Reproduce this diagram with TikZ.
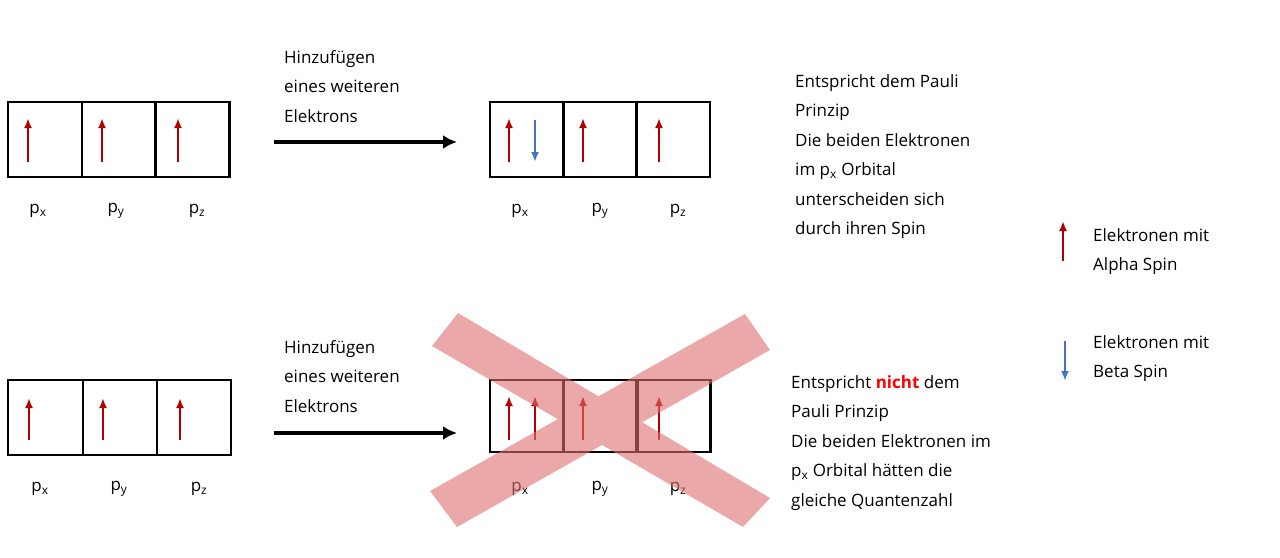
\documentclass[tikz,border=0pt]{standalone}
\usepackage{fontspec}
\setmainfont{Open Sans}
\usetikzlibrary{arrows.meta}
\begin{document}
\begin{tikzpicture}[x=1pt,y=-1pt,
  box/.style={draw=black,line width=2.2pt,minimum width=74pt,minimum height=75pt,inner sep=0pt},
  up/.style={-{Latex[length=10pt,width=8pt]},draw=red!70!black,line width=2.2pt},
  dn/.style={-{Latex[length=10pt,width=8pt]},draw={rgb,255:red,68;green,114;blue,196},line width=2pt},
  big/.style={-{Latex[length=14pt,width=14pt]},line width=3.5pt},
  txt/.style={anchor=north west,align=left,font=\fontsize{17}{29.5}\selectfont,inner sep=0pt},
  lab/.style={font=\fontsize{17}{24}\selectfont},
  band/.style={fill={rgb,255:red,222;green,110;blue,110}}]
\useasboundingbox (0,0) rectangle (1280,557);
% top left
\node[box] (a1) at (45,139.5) {};
\node[box] (a2) at (119,139.5) {};
\node[box] (a3) at (192.5,139.5) {};
\foreach \n/\x in {a1/28,a2/102,a3/178}{\coordinate (\n s) at (\x,162); \coordinate (\n e) at (\x,118); \draw[up] (\n s) -- (\n e);}
\node[lab] (la1) at (38,211) {p\textsubscript{x}};
\node[lab] (la2) at (116,211) {p\textsubscript{y}};
\node[lab] (la3) at (197,211) {p\textsubscript{z}};
\coordinate (t1) at (274,142); \coordinate (t2) at (457,142);
\draw[big] (t1) -- (t2);
\node[txt] (h1) at (284,50) {Hinzufügen\\eines weiteren\\Elektrons};
% top right
\node[box] (b1) at (527,139.5) {};
\node[box] (b2) at (600,139.5) {};
\node[box] (b3) at (673,139.5) {};
\foreach \n/\x in {b1/509,b2/583,b3/659}{\coordinate (\n s) at (\x,162); \coordinate (\n e) at (\x,118); \draw[up] (\n s) -- (\n e);}
\coordinate (bd1) at (535,120); \coordinate (bd2) at (535,162); \draw[dn] (bd1) -- (bd2);
\node[lab] (lb1) at (520,211) {p\textsubscript{x}};
\node[lab] (lb2) at (600,211) {p\textsubscript{y}};
\node[lab] (lb3) at (678,211) {p\textsubscript{z}};
\node[txt] (r1) at (795,74) {Entspricht dem Pauli\\Prinzip\\Die beiden Elektronen\\im p\textsubscript{x} Orbital\\unterscheiden sich\\durch ihren Spin};
% legend
\coordinate (l1s) at (1063,261); \coordinate (l1e) at (1063,221); \draw[up] (l1s) -- (l1e);
\node[txt] (lt1) at (1093,228) {Elektronen mit\\Alpha Spin};
\coordinate (l2s) at (1065,341); \coordinate (l2e) at (1065,381); \draw[dn] (l2s) -- (l2e);
\node[txt] (lt2) at (1093,335) {Elektronen mit\\Beta Spin};
% bottom left
\node[box,minimum width=75pt] (c1) at (45.5,417.5) {};
\node[box] (c2) at (120,417.5) {};
\node[box] (c3) at (194,417.5) {};
\foreach \n/\x in {c1/29,c2/103,c3/180}{\coordinate (\n s) at (\x,440); \coordinate (\n e) at (\x,398); \draw[up] (\n s) -- (\n e);}
\node[lab] (lc1) at (40,489) {p\textsubscript{x}};
\node[lab] (lc2) at (119,489) {p\textsubscript{y}};
\node[lab] (lc3) at (199,489) {p\textsubscript{z}};
\coordinate (u1) at (274,433); \coordinate (u2) at (457,433);
\draw[big] (u1) -- (u2);
\node[txt] (h2) at (284,340) {Hinzufügen\\eines weiteren\\Elektrons};
% bottom right
\node[box,minimum height=72pt] (d1) at (527,416) {};
\node[box,minimum height=72pt] (d2) at (600.5,416) {};
\node[box,minimum height=72pt] (d3) at (673.5,416) {};
\foreach \n/\x in {d1/509,d2/583,d3/659}{\coordinate (\n s) at (\x,440); \coordinate (\n e) at (\x,396); \draw[up] (\n s) -- (\n e);}
\coordinate (dd1s) at (535,440); \coordinate (dd1e) at (535,396); \draw[up] (dd1s) -- (dd1e);
\node[lab] (ld1) at (520,489) {p\textsubscript{x}};
\node[lab] (ld2) at (600,489) {p\textsubscript{y}};
\node[lab] (ld3) at (678,489) {p\textsubscript{z}};
% cross
\begin{scope}[transparency group,opacity=0.6]
\fill[band] (432,346) -- (458,313) -- (770,498) -- (743,527) -- cycle;
\fill[band] (745,314) -- (770,350) -- (457,527) -- (430,491) -- cycle;
\end{scope}
\node[txt] (r2) at (791,375) {Entspricht \textbf{\color{red}nicht} dem\\Pauli Prinzip\\Die beiden Elektronen im\\p\textsubscript{x} Orbital hätten die\\gleiche Quantenzahl};
\end{tikzpicture}
\end{document}
